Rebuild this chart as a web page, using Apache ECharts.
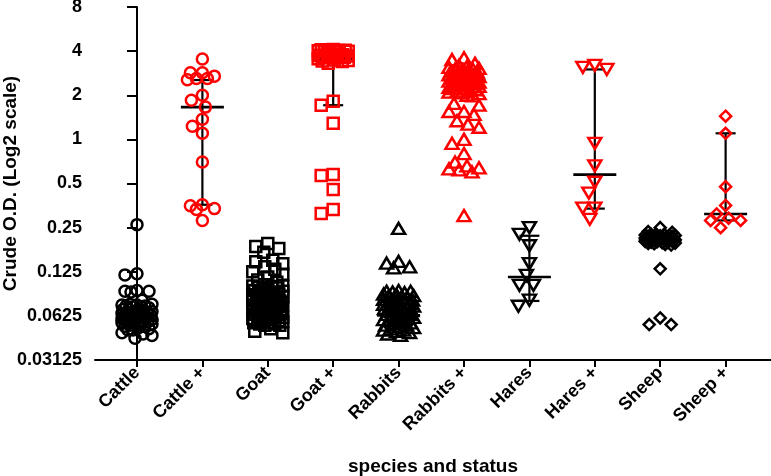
<!DOCTYPE html>
<html>
<head>
<meta charset="utf-8">
<script src="https://cdn.jsdelivr.net/npm/echarts@6/dist/echarts.min.js"></script>
<style>
  html, body { margin: 0; padding: 0; background: #fff; }
  #chart { width: 771px; height: 476px; }
</style>
</head>
<body>
<div id="chart"></div>
<script>
// categories on the x axis
const categories = ["Cattle", "Cattle +", "Goat", "Goat +", "Rabbits", "Rabbits +", "Hares", "Hares +", "Sheep", "Sheep +"];
const yTicks = [0.03125, 0.0625, 0.125, 0.25, 0.5, 1, 2, 4, 8];

// crude O.D. per animal (dense clusters estimated)
const cattle = [0.262, 0.121, 0.119, 0.093, 0.092, 0.092, 0.091, 0.080,
  0.075, 0.075, 0.074, 0.074, 0.073, 0.073, 0.072, 0.072, 0.071,
  0.069, 0.069, 0.068, 0.068, 0.067, 0.067, 0.066, 0.066, 0.065, 0.065, 0.064,
  0.0635, 0.063, 0.063, 0.062, 0.062, 0.061, 0.061, 0.060, 0.060, 0.059, 0.059,
  0.058, 0.058, 0.057, 0.057, 0.056, 0.056, 0.055, 0.055, 0.054,
  0.053, 0.053, 0.052, 0.051, 0.050, 0.050, 0.048, 0.047, 0.046, 0.044];
const cattlePos = [3.53, 2.85, 2.85, 2.7, 2.6, 2.6, 2.55, 2.0, 1.85, 1.66, 1.37, 1.23, 1.10, 0.70,
  0.358, 0.353, 0.337, 0.333, 0.28];
const goat = [0.195, 0.186, 0.18, 0.17, 0.15, 0.146, 0.142, 0.135, 0.13, 0.125, 0.12, 0.115, 0.11, 0.106,
  0.102, 0.1, 0.1, 0.099, 0.098, 0.097, 0.096,
  0.094, 0.093, 0.092, 0.091, 0.09, 0.089, 0.088, 0.087, 0.087,
  0.086, 0.085, 0.084, 0.083, 0.082, 0.081, 0.08, 0.08, 0.079,
  0.078, 0.077, 0.076, 0.075, 0.074, 0.074, 0.073, 0.073, 0.072,
  0.071, 0.07, 0.07, 0.069, 0.068, 0.068, 0.067, 0.067, 0.066,
  0.065, 0.065, 0.064, 0.064, 0.063, 0.062, 0.062, 0.061,
  0.06, 0.06, 0.059, 0.058, 0.058, 0.057, 0.057,
  0.056, 0.056, 0.055, 0.055, 0.054, 0.054, 0.051, 0.049, 0.048];
const goatPos = [4.1, 4.08, 4.06, 4.05, 4.04, 4.02, 4.0, 4.0, 3.98, 3.96,
  3.78, 3.76, 3.74, 3.72, 3.7, 3.68, 3.66, 3.64, 3.62, 3.6, 3.55,
  3.48, 3.45, 3.42, 3.4, 3.3,
  1.82, 1.71, 1.29, 0.575, 0.567, 0.455, 0.333, 0.312];
const rabbits = [0.247, 0.147, 0.143, 0.135, 0.133,
  0.093, 0.092, 0.092, 0.091, 0.09,
  0.088, 0.087, 0.086, 0.085, 0.084, 0.083, 0.082,
  0.081, 0.08, 0.079, 0.078, 0.077, 0.076, 0.076,
  0.075, 0.074, 0.073, 0.072, 0.071, 0.07, 0.07,
  0.069, 0.068, 0.067, 0.066, 0.065, 0.064, 0.064,
  0.063, 0.062, 0.061, 0.06, 0.059, 0.059,
  0.058, 0.057, 0.056, 0.055, 0.054, 0.054,
  0.053, 0.052, 0.051, 0.05, 0.05, 0.049, 0.048, 0.047, 0.046];
const rabbitsPos = [3.6, 3.5, 3.3,
  3.2, 3.15, 3.1, 3.05, 3.0, 3.0, 2.98,
  2.95, 2.92, 2.9, 2.88, 2.85, 2.83, 2.8, 2.78, 2.76,
  2.72, 2.7, 2.68, 2.66, 2.64, 2.62, 2.6, 2.58, 2.56, 2.54,
  2.52, 2.5, 2.48, 2.46, 2.44, 2.42, 2.4, 2.38, 2.36, 2.34,
  2.32, 2.3, 2.28, 2.26, 2.24, 2.22, 2.2, 2.18,
  2.15, 2.12, 2.1, 2.08, 2.05, 2.0, 1.98,
  1.76, 1.71, 1.55, 1.55, 1.48, 1.34, 1.27, 1.21, 1.0, 0.94, 0.80, 0.70, 0.66, 0.64, 0.63, 0.62,
  0.60, 0.302];
const hares = [0.25, 0.225, 0.188, 0.142, 0.118, 0.101, 0.101, 0.08, 0.0727];
const haresPos = [3.2, 3.1, 3.0, 0.94, 0.66, 0.51, 0.43, 0.34, 0.34, 0.285];
const sheep = [0.25, 0.235, 0.232,
  0.226, 0.225, 0.224, 0.223, 0.222, 0.221, 0.22, 0.219, 0.218, 0.217, 0.216, 0.215, 0.214, 0.213, 0.212,
  0.208, 0.207, 0.206, 0.205, 0.204, 0.203, 0.202, 0.201, 0.2, 0.199, 0.198, 0.197, 0.196, 0.195, 0.194,
  0.192, 0.19, 0.131, 0.0605, 0.0545, 0.0545];
const sheepPos = [1.44, 1.10, 0.476, 0.354, 0.31, 0.29, 0.28, 0.28, 0.25];

// median with interquartile range
const medians = [0.058, 1.66, 0.077, 3.53, 0.063, 2.55, 0.115, 0.575, 0.205, 0.31];
const q1 = [0.053, 0.358, 0.064, 1.71, 0.055, 2.2, 0.079, 0.337, 0.195, 0.28];
const q3 = [0.068, 2.54, 0.095, 3.95, 0.08, 2.9, 0.22, 3.0, 0.215, 1.10];

const groups = [cattle, cattlePos, goat, goatPos, rabbits, rabbitsPos, hares, haresPos, sheep, sheepPos];
const symbols = ["circle", "circle", "rect", "rect", "triangle", "triangle", "triangle", "triangle", "diamond", "diamond"];
const rotations = [0, 0, 0, 0, 0, 0, 180, 180, 0, 0];
const sizes = [[11, 11], [11, 11], [11, 11], [11, 11], [13, 11], [13, 11], [13, 11], [13, 11], [11, 11], [11, 11]];

// beeswarm layout: each point goes as near the column centre as it can
// without hitting one already placed; in dense spots it takes the widest gap
const PX_PER_CAT = 65.4;
const PX_PER_DOUBLING = 44;
const DIAM = 12;
const MAX_HALF = 15;

function spread(values, idx) {
  const placed = [];
  const out = [];
  values.slice().sort((a, b) => b - a).forEach(v => {
    const y = Math.log2(v) * PX_PER_DOUBLING;
    let best = 0, bestGap = -1;
    for (let k = 0; k <= 2 * MAX_HALF; k++) {
      const dx = (k % 2 === 0 ? 1 : -1) * Math.ceil(k / 2);
      let gap = Infinity;
      placed.forEach(p => {
        const d = Math.hypot(p[0] - dx, p[1] - y);
        if (d < gap) gap = d;
      });
      if (gap >= DIAM) { best = dx; break; }
      if (gap > bestGap + 0.01) { bestGap = gap; best = dx; }
    }
    placed.push([best, y]);
    out.push([idx + best / PX_PER_CAT, v]);
  });
  return out;
}

const chart = echarts.init(document.getElementById("chart"));

const labelFont = { fontFamily: "Liberation Sans, Arial, sans-serif", fontWeight: "bold", color: "#000" };

const series = [
  {
    type: "custom",
    z: 1,
    data: categories.map((c, i) => [i, medians[i], q1[i], q3[i]]),
    renderItem: (params, api) => {
      const x = api.value(0);
      const m = api.coord([x, api.value(1)]);
      const lo = api.coord([x, api.value(2)]);
      const hi = api.coord([x, api.value(3)]);
      const st = { stroke: "#000", lineWidth: 2.2 };
      return {
        type: "group",
        children: [
          { type: "line", shape: { x1: lo[0], y1: lo[1], x2: hi[0], y2: hi[1] }, style: st },
          { type: "line", shape: { x1: lo[0] - 10, y1: lo[1], x2: lo[0] + 10, y2: lo[1] }, style: st },
          { type: "line", shape: { x1: hi[0] - 10, y1: hi[1], x2: hi[0] + 10, y2: hi[1] }, style: st },
          { type: "line", shape: { x1: m[0] - 21.5, y1: m[1], x2: m[0] + 21.5, y2: m[1] }, style: { stroke: "#000", lineWidth: 2.6 } }
        ]
      };
    }
  }
];

groups.forEach((vals, i) => {
  const col = i % 2 === 0 ? "#000000" : "#ff0000";
  series.push({
    type: "scatter",
    z: 2,
    name: categories[i],
    symbol: symbols[i],
    symbolRotate: rotations[i],
    symbolSize: sizes[i],
    data: spread(vals, i),
    itemStyle: { color: "rgba(0,0,0,0)", borderColor: col, borderWidth: 2.5, opacity: 1 },
    emphasis: { disabled: true }
  });
});

chart.setOption({
  animation: false,
  backgroundColor: "#fff",
  grid: { left: 95, right: 0, top: 7, bottom: 116, containLabel: false, outerBoundsMode: "none" },
  xAxis: {
    type: "value",
    min: -0.642,
    max: 9.694,
    name: "species and status",
    nameLocation: "middle",
    nameGap: 97,
    nameMoveOverlap: false,
    nameTextStyle: Object.assign({ fontSize: 19 }, labelFont),
    splitLine: { show: false },
    axisLine: { show: true, onZero: false, lineStyle: { color: "#000", width: 2 } },
    axisTick: { show: true, length: 7, lineStyle: { color: "#000", width: 2 }, customValues: categories.map((c, i) => i) },
    axisLabel: Object.assign({
      fontSize: 18,
      rotate: 45,
      margin: 10,
      customValues: categories.map((c, i) => i),
      formatter: v => categories[Math.round(v)]
    }, labelFont)
  },
  yAxis: {
    type: "log",
    logBase: 2,
    min: yTicks[0],
    max: yTicks[yTicks.length - 1],
    splitNumber: yTicks.length - 1,
    name: "Crude O.D. (Log2 scale)",
    nameLocation: "middle",
    nameRotate: 90,
    nameGap: 75,
    nameMoveOverlap: false,
    nameTextStyle: Object.assign({ fontSize: 19 }, labelFont),
    splitLine: { show: false },
    axisLine: { show: true, lineStyle: { color: "#000", width: 2 } },
    axisTick: { show: true, length: 10, lineStyle: { color: "#000", width: 2 } },
    axisLabel: Object.assign({
      fontSize: 18,
      margin: 13,
      formatter: v => String(+Number(v).toPrecision(6))
    }, labelFont)
  },
  series: series
});

window.addEventListener("resize", () => chart.resize());
</script>
</body>
</html>
